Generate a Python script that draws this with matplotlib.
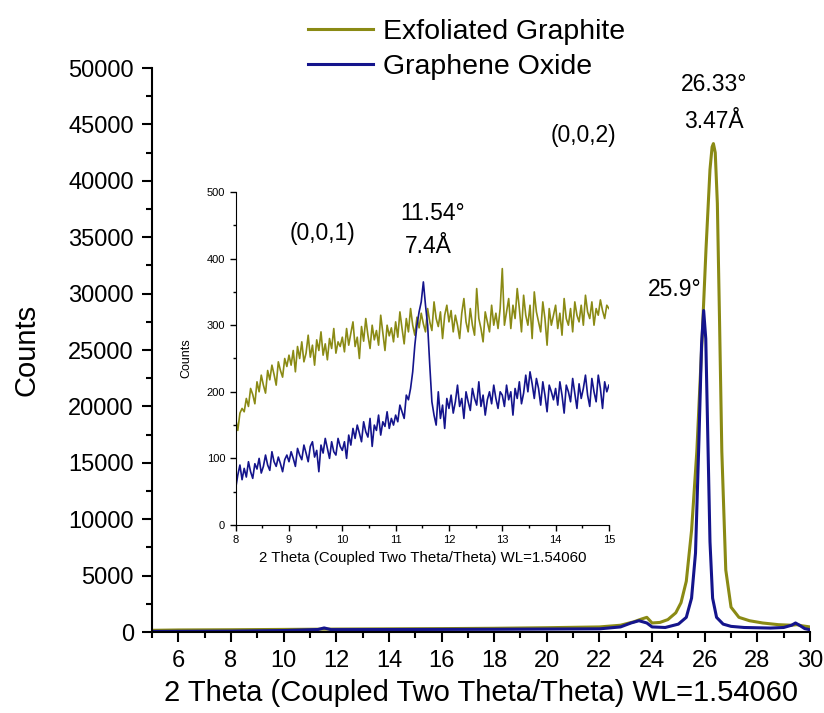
import numpy as np
import matplotlib.pyplot as plt
from matplotlib.ticker import MultipleLocator

plt.rcParams['font.family'] = ['Liberation Sans', 'DejaVu Sans']

olive = '#8a8a14'
navy = '#14148c'

# XRD scan, full range
eg_theta = [5, 6, 8, 10, 12, 14, 16, 18, 20, 22, 22.8, 23.3, 23.6, 23.8, 24.0, 24.3,
            24.6, 24.9, 25.1, 25.3, 25.5, 25.7, 25.9, 26.05, 26.2, 26.28, 26.33, 26.4,
            26.48, 26.56, 26.65, 26.8, 27.0, 27.3, 27.7, 28.2, 28.8, 29.3, 29.5, 29.7, 30]
eg_counts = [150, 180, 200, 230, 260, 280, 300, 330, 380, 450, 600, 900, 1150, 1300, 800, 850,
             1100, 1700, 2600, 4500, 9000, 16000, 26000, 34000, 41000, 43000, 43300, 42500,
             38000, 28000, 16000, 5500, 2200, 1300, 1000, 800, 650, 600, 650, 550, 450]

go_theta = [5, 8, 10, 11.3, 11.54, 11.8, 14, 18, 22, 22.8, 23.2, 23.5, 23.8, 24.0, 24.5,
            25.0, 25.3, 25.5, 25.65, 25.78, 25.88, 25.96, 26.04, 26.12, 26.2, 26.3, 26.45,
            26.7, 27.0, 27.5, 28.5, 29.0, 29.3, 29.45, 29.6, 29.8, 30]
go_counts = [50, 80, 130, 220, 360, 210, 220, 240, 280, 450, 800, 1000, 800, 450, 400,
             700, 1300, 3000, 7000, 17000, 25500, 28500, 26000, 17000, 8000, 3000, 1300,
             700, 500, 400, 350, 400, 600, 800, 600, 300, 200]

# zoomed scan 8-15 deg, 0.04 deg step
zoom_theta = np.round(np.arange(8.0, 15.0001, 0.04), 2)
eg_zoom = [160, 142, 168, 175, 170, 190, 178, 205, 196, 182, 215, 200, 225, 210, 198, 232, 218, 240, 226, 210, 245, 232, 222, 250, 238,
           255, 240, 262, 230, 268, 250, 275, 245, 258, 285, 252, 270, 240, 278, 262, 290, 255, 272, 248, 280, 265, 295, 258, 275, 268,
           282, 260, 295, 270, 288, 305, 268, 282, 250, 298, 276, 310, 285, 265, 300, 278, 292, 270, 315, 288, 262, 300, 284, 296, 275,
           305, 282, 320, 295, 272, 310, 290, 325, 300, 285, 312, 296, 318, 302, 290, 325, 305, 292, 335, 310, 298, 320, 280, 315, 330,
           305, 322, 290, 315, 300, 280, 318, 340, 305, 290, 325, 300, 285, 355, 310, 295, 275, 320, 305, 290, 330, 300, 318, 295, 325,
           385, 300, 320, 340, 295, 330, 310, 355, 325, 290, 345, 315, 300, 330, 280, 350, 320, 305, 290, 335, 310, 270, 325, 300, 315,
           330, 295, 318, 285, 340, 310, 300, 325, 290, 335, 315, 305, 330, 300, 345, 320, 310, 335, 300, 325, 315, 338, 322, 310, 330,
           325]
go_zoom = [55, 75, 90, 68, 85, 72, 95, 80, 70, 92, 84, 100, 78, 88, 105, 90, 82, 110, 95, 88, 102, 92, 80, 98, 105,
           95, 110, 100, 88, 115, 105, 98, 120, 108, 95, 118, 125, 102, 112, 80, 120, 108, 130, 115, 100, 125, 110, 105, 130, 118,
           112, 125, 100, 135, 120, 145, 130, 150, 138, 125, 155, 140, 132, 160, 118, 150, 142, 165, 135, 155, 148, 170, 145, 160, 150,
           165, 155, 180, 170, 160, 195, 188, 205, 230, 270, 300, 320, 335, 365, 330, 300, 240, 185, 165, 150, 200, 160, 180, 145, 190,
           175, 195, 168, 185, 210, 178, 190, 160, 200, 185, 172, 205, 190, 180, 215, 178, 195, 165, 188, 200, 182, 210, 190, 175, 200,
           195, 178, 210, 188, 200, 165, 205, 190, 215, 182, 198, 225, 200, 230, 212, 190, 220, 205, 180, 215, 195, 170, 210, 200, 188,
           205, 180, 215, 195, 168, 210, 200, 185, 220, 198, 175, 212, 190, 205, 225, 195, 178, 220, 200, 185, 225, 205, 175, 215, 200,
           210]

fig = plt.figure(figsize=(8.24, 7.13), dpi=100)
ax = fig.add_axes([0.1845, 0.1136, 0.7985, 0.791])

ax.plot(eg_theta, eg_counts, color=olive, lw=2.2, label='Exfoliated Graphite')
ax.plot(go_theta, go_counts, color=navy, lw=2.2, label='Graphene Oxide')
ax.set_xlim(5, 30)
ax.set_ylim(0, 50000)
ax.xaxis.set_minor_locator(MultipleLocator(1))
ax.yaxis.set_major_locator(MultipleLocator(5000))
ax.yaxis.set_minor_locator(MultipleLocator(2500))
ax.set_xticks(range(6, 31, 2))
for s in ['top', 'right']:
    ax.spines[s].set_visible(False)
for s in ['left', 'bottom']:
    ax.spines[s].set_linewidth(1.5)
ax.tick_params(which='major', length=7, width=1.5, labelsize=17, pad=6)
ax.tick_params(which='minor', length=4, width=1.5)
ax.set_xlabel('2 Theta (Coupled Two Theta/Theta) WL=1.54060', fontsize=21, labelpad=5)
ax.set_ylabel('Counts', fontsize=21, labelpad=20)

ax.text(26.34, 48500, '26.33°', fontsize=16.5, ha='center', va='center')
ax.text(26.34, 45300, '3.47Å', fontsize=16.5, ha='center', va='center')
ax.text(21.4, 44000, '(0,0,2)', fontsize=16.5, ha='center', va='center')
ax.text(24.85, 30400, '25.9°', fontsize=16.5, ha='center', va='center')

fig.legend(loc='upper left', bbox_to_anchor=(0.357, 0.994), frameon=False, fontsize=20.5,
           handlelength=2.28, handletextpad=0.35, labelspacing=0.33, borderpad=0)

# inset
ins = fig.add_axes([0.286, 0.2637, 0.453, 0.467])
ins.plot(zoom_theta, eg_zoom, color=olive, lw=1.2)
ins.plot(zoom_theta, go_zoom, color=navy, lw=1.2)
ins.set_xlim(8, 15)
ins.set_ylim(0, 500)
ins.xaxis.set_major_locator(MultipleLocator(1))
ins.xaxis.set_minor_locator(MultipleLocator(0.5))
ins.yaxis.set_major_locator(MultipleLocator(100))
ins.yaxis.set_minor_locator(MultipleLocator(50))
for s in ['top', 'right']:
    ins.spines[s].set_visible(False)
ins.tick_params(which='major', length=4, width=1, labelsize=8)
ins.tick_params(which='minor', length=2.5, width=1)
ins.set_xlabel('2 Theta (Coupled Two Theta/Theta) WL=1.54060', fontsize=10.8, labelpad=4)
ins.set_ylabel('Counts', fontsize=9, labelpad=10)
ins.patch.set_alpha(0)

ins.text(9.63, 438, '(0,0,1)', fontsize=16.5, ha='center', va='center')
ins.text(11.69, 467, '11.54°', fontsize=16.5, ha='center', va='center')
ins.text(11.62, 418, '7.4Å', fontsize=16.5, ha='center', va='center')

fig.savefig('out.png', dpi=100)
